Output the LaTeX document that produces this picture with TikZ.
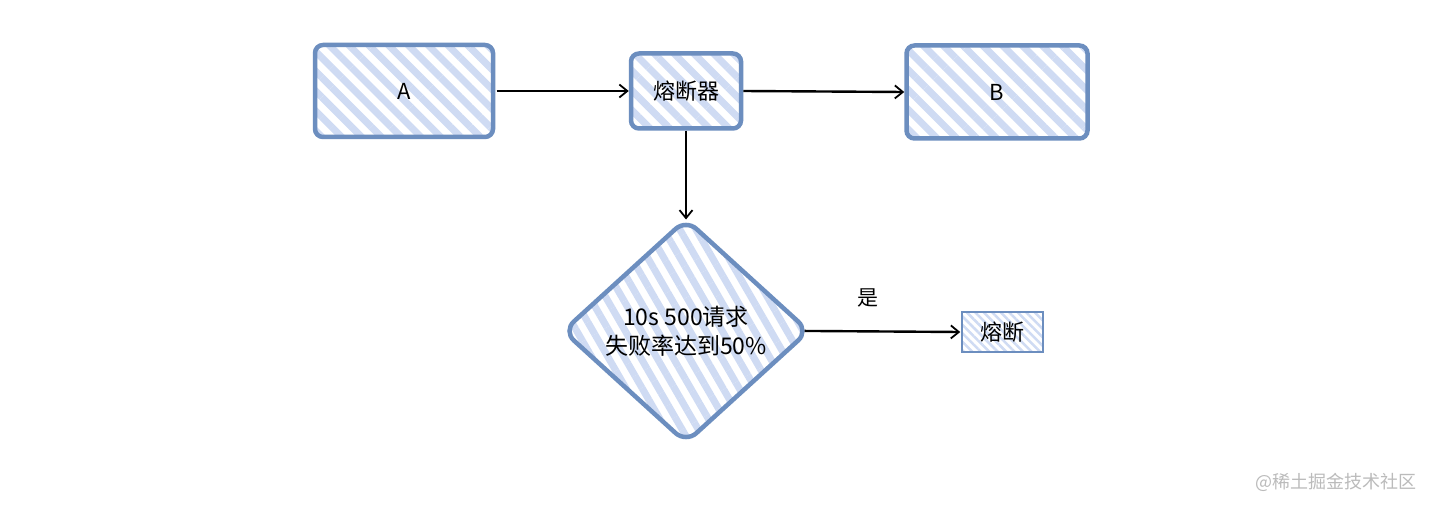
\documentclass[tikz,border=0pt]{standalone}
\usepackage{fontspec}
\setmainfont{Noto Sans CJK SC}
\usetikzlibrary{shapes.geometric,arrows.meta,patterns.meta}
\definecolor{bord}{HTML}{6C8EBF}
\definecolor{hatch}{HTML}{CFDBF3}
\definecolor{wm}{HTML}{BBBBBB}
\tikzset{
  box/.style={draw=bord, line width=4.5pt, rounded corners=8pt,
    pattern={Lines[angle=-45,distance=14pt,line width=7pt]}, pattern color=hatch,
    inner sep=0pt, font=\fontsize{22}{26}\selectfont},
  smallbox/.style={draw=bord, line width=2pt,
    pattern={Lines[angle=-45,distance=6pt,line width=2.5pt]}, pattern color=hatch,
    inner sep=0pt, font=\fontsize{22}{26}\selectfont},
  decision/.style={diamond, draw=bord, line width=4.5pt, rounded corners=14pt,
    pattern={Lines[angle=-60,distance=14pt,line width=7pt]}, pattern color=hatch,
    inner sep=0pt, align=center, font=\fontsize{23}{29}\selectfont},
  conn/.style={draw=black, line width=2.4pt, -{Straight Barb[length=8pt,width=13pt,line width=1.8pt]}},
}
\begin{document}
\begin{tikzpicture}[x=1pt,y=-1pt]
\useasboundingbox[fill=white] (0,0) rectangle (1432,508);
\node[box, minimum width=178pt, minimum height=92pt] (A) at (404,91) {A};
\node[box, minimum width=110pt, minimum height=75pt] (F) at (686,91) {熔断器};
\node[box, minimum width=181pt, minimum height=93pt] (B) at (997,92) {B};
\node[decision, minimum width=248pt, minimum height=226pt] (D) at (686,331) {10s 500请求\\失败率达到50\%};
\node[smallbox, minimum width=81pt, minimum height=40pt] (R) at (1002,332) {熔断};
\node[font=\fontsize{21}{24}\selectfont] (Y) at (868,298) {是};
\node[font=\fontsize{18}{21}\selectfont, text=wm] (W) at (1336,482) {@稀土掘金技术社区};
\draw[conn] (A.east) -- (F.west);
\draw[conn] (F.east) -- (B.west);
\draw[conn, shorten >=-5pt] (F.south) -- (D.north);
\draw[conn, shorten <=-9pt] (D.east) -- (R.west);
\end{tikzpicture}
\end{document}
